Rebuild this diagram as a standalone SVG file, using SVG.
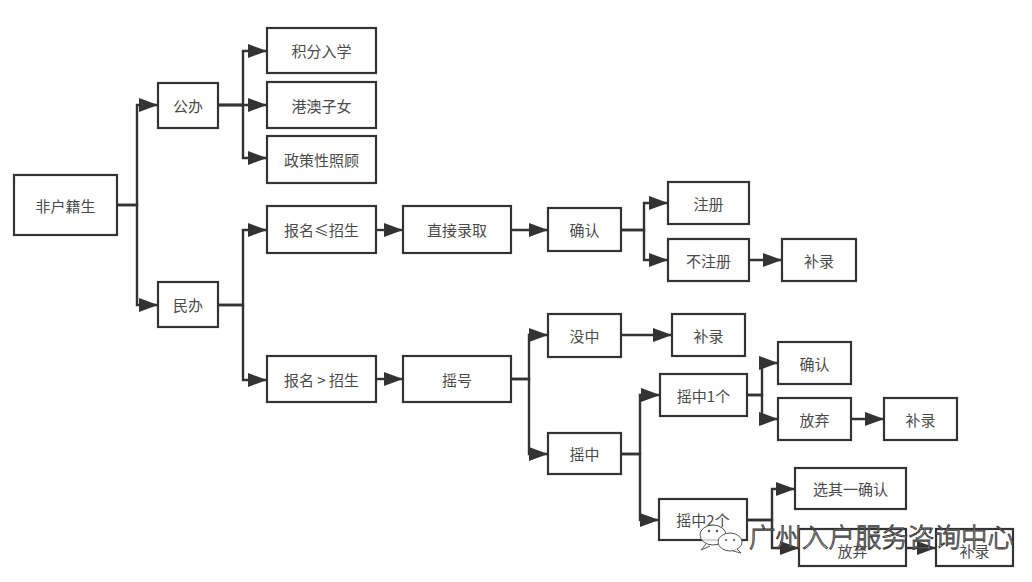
<svg xmlns="http://www.w3.org/2000/svg" width="1032" height="582" viewBox="0 0 1032 582">
<style>
.box{fill:#fff;stroke:#333;stroke-width:2.2}
.lbl{font-family:"Noto Sans CJK SC","Liberation Sans",sans-serif;font-size:15px;fill:#4a4a4a;text-anchor:middle;dominant-baseline:central}
.edge{fill:none;stroke:#333;stroke-width:2.4;marker-end:url(#arr)}
.wm{font-family:"Noto Sans CJK SC",sans-serif;font-size:26.5px;fill:#fff;fill-opacity:0.85;stroke:#333;stroke-width:0.9;font-weight:300}
</style>
<defs>
<marker id="arr" markerUnits="userSpaceOnUse" markerWidth="20" markerHeight="14" refX="19" refY="7" orient="auto">
<path d="M0,0 L19,7 L0,14 Z" fill="#333"/>
</marker>
</defs>
<rect width="1032" height="582" fill="#fff"/>
<g id="connectors">
<path class="edge" d="M117,205 H137 V105 H158"/>
<path class="edge" d="M117,205 H137 V305 H158"/>
<path class="edge" d="M218,105 H243 V51 H267"/>
<path class="edge" d="M218,105 H267"/>
<path class="edge" d="M218,105 H243 V158 H267"/>
<path class="edge" d="M218,305 H243 V230 H267"/>
<path class="edge" d="M218,305 H243 V380 H267"/>
<path class="edge" d="M376,230 H403"/>
<path class="edge" d="M511,230 H548"/>
<path class="edge" d="M621,230 H644 V203 H668"/>
<path class="edge" d="M621,230 H644 V260 H668"/>
<path class="edge" d="M749,260 H782"/>
<path class="edge" d="M376,379 H403"/>
<path class="edge" d="M511,379 H529 V335 H548"/>
<path class="edge" d="M511,379 H529 V454 H548"/>
<path class="edge" d="M621,335 H672"/>
<path class="edge" d="M621,454 H640 V395 H660"/>
<path class="edge" d="M621,454 H640 V520 H659"/>
<path class="edge" d="M747,395 H762 V363 H778"/>
<path class="edge" d="M747,395 H762 V419 H778"/>
<path class="edge" d="M851,419 H884"/>
<path class="edge" d="M747,520 H772 V489 H795"/>
<path class="edge" d="M747,520 H772 V548 H799"/>
<path class="edge" d="M906,548 H936"/>
</g>
<g id="n_root"><rect class="box" x="14" y="175" width="103" height="60"/><text class="lbl" x="65.5" y="205">非户籍生</text></g>
<g id="n_gongban"><rect class="box" x="158" y="83" width="60" height="45"/><text class="lbl" x="188" y="105.5">公办</text></g>
<g id="n_minban"><rect class="box" x="158" y="282" width="60" height="45"/><text class="lbl" x="188" y="304.5">民办</text></g>
<g id="n_jifen"><rect class="box" x="267" y="28" width="109" height="45"/><text class="lbl" x="321.5" y="50.5">积分入学</text></g>
<g id="n_gangao"><rect class="box" x="267" y="82" width="109" height="46"/><text class="lbl" x="321.5" y="105">港澳子女</text></g>
<g id="n_zhengce"><rect class="box" x="267" y="136" width="109" height="47"/><text class="lbl" x="321.5" y="159.5">政策性照顾</text></g>
<g id="n_baoming_le"><rect class="box" x="267" y="206" width="109" height="47"/><text class="lbl" x="321.5" y="229.5">报名≤招生</text></g>
<g id="n_baoming_gt"><rect class="box" x="267" y="356" width="109" height="46"/><text class="lbl" x="321.5" y="379">报名 &gt; 招生</text></g>
<g id="n_zhijie"><rect class="box" x="403" y="206" width="108" height="47"/><text class="lbl" x="457" y="229.5">直接录取</text></g>
<g id="n_queren1"><rect class="box" x="548" y="208" width="73" height="43"/><text class="lbl" x="584.5" y="229.5">确认</text></g>
<g id="n_zhuce"><rect class="box" x="668" y="182" width="81" height="42"/><text class="lbl" x="708.5" y="203">注册</text></g>
<g id="n_buzhuce"><rect class="box" x="668" y="239" width="81" height="42"/><text class="lbl" x="708.5" y="260">不注册</text></g>
<g id="n_bulu1"><rect class="box" x="782" y="239" width="74" height="42"/><text class="lbl" x="819" y="260">补录</text></g>
<g id="n_yaohao"><rect class="box" x="403" y="356" width="108" height="46"/><text class="lbl" x="457" y="379">摇号</text></g>
<g id="n_meizhong"><rect class="box" x="548" y="314" width="73" height="43"/><text class="lbl" x="584.5" y="335.5">没中</text></g>
<g id="n_yaozhong"><rect class="box" x="548" y="433" width="73" height="41"/><text class="lbl" x="584.5" y="453.5">摇中</text></g>
<g id="n_bulu2"><rect class="box" x="672" y="314" width="73" height="42"/><text class="lbl" x="708.5" y="335">补录</text></g>
<g id="n_yz1"><rect class="box" x="660" y="374" width="87" height="42"/><text class="lbl" x="703.5" y="395">摇中1个</text></g>
<g id="n_queren2"><rect class="box" x="778" y="342" width="73" height="42"/><text class="lbl" x="814.5" y="363">确认</text></g>
<g id="n_fangqi1"><rect class="box" x="778" y="398" width="73" height="42"/><text class="lbl" x="814.5" y="419">放弃</text></g>
<g id="n_bulu3"><rect class="box" x="884" y="398" width="73" height="42"/><text class="lbl" x="920.5" y="419">补录</text></g>
<g id="n_yz2"><rect class="box" x="659" y="499" width="88" height="41"/><text class="lbl" x="703" y="519.5">摇中2个</text></g>
<g id="n_xuanqi"><rect class="box" x="795" y="468" width="111" height="41"/><text class="lbl" x="850.5" y="488.5">选其一确认</text></g>
<g id="n_fangqi2"><rect class="box" x="799" y="529" width="107" height="37"/><text class="lbl" x="852.5" y="550">放弃</text></g>
<g id="n_bulu4"><rect class="box" x="936" y="529" width="77" height="37"/><text class="lbl" x="974.5" y="550">补录</text></g>
<g id="watermark">
<ellipse cx="713" cy="535" rx="13" ry="10" fill="#fff" fill-opacity="0.8" stroke="#555" stroke-width="1"/>
<path d="M706,544 l-5,6 l9,-4" fill="#fff" stroke="#555" stroke-width="1"/>
<ellipse cx="730" cy="542" rx="12" ry="9" fill="#fff" stroke="#555" stroke-width="1"/>
<path d="M737,549 l4,4 l-8,-2" fill="#fff" stroke="#555" stroke-width="1"/>
<circle cx="709" cy="531" r="1.2" fill="#555"/><circle cx="717" cy="531" r="1.2" fill="#555"/>
<circle cx="726" cy="540" r="1.1" fill="#555"/><circle cx="734" cy="540" r="1.1" fill="#555"/>
<text class="wm" x="749" y="547">广州入户服务咨询中心</text>
</g>
</svg>
